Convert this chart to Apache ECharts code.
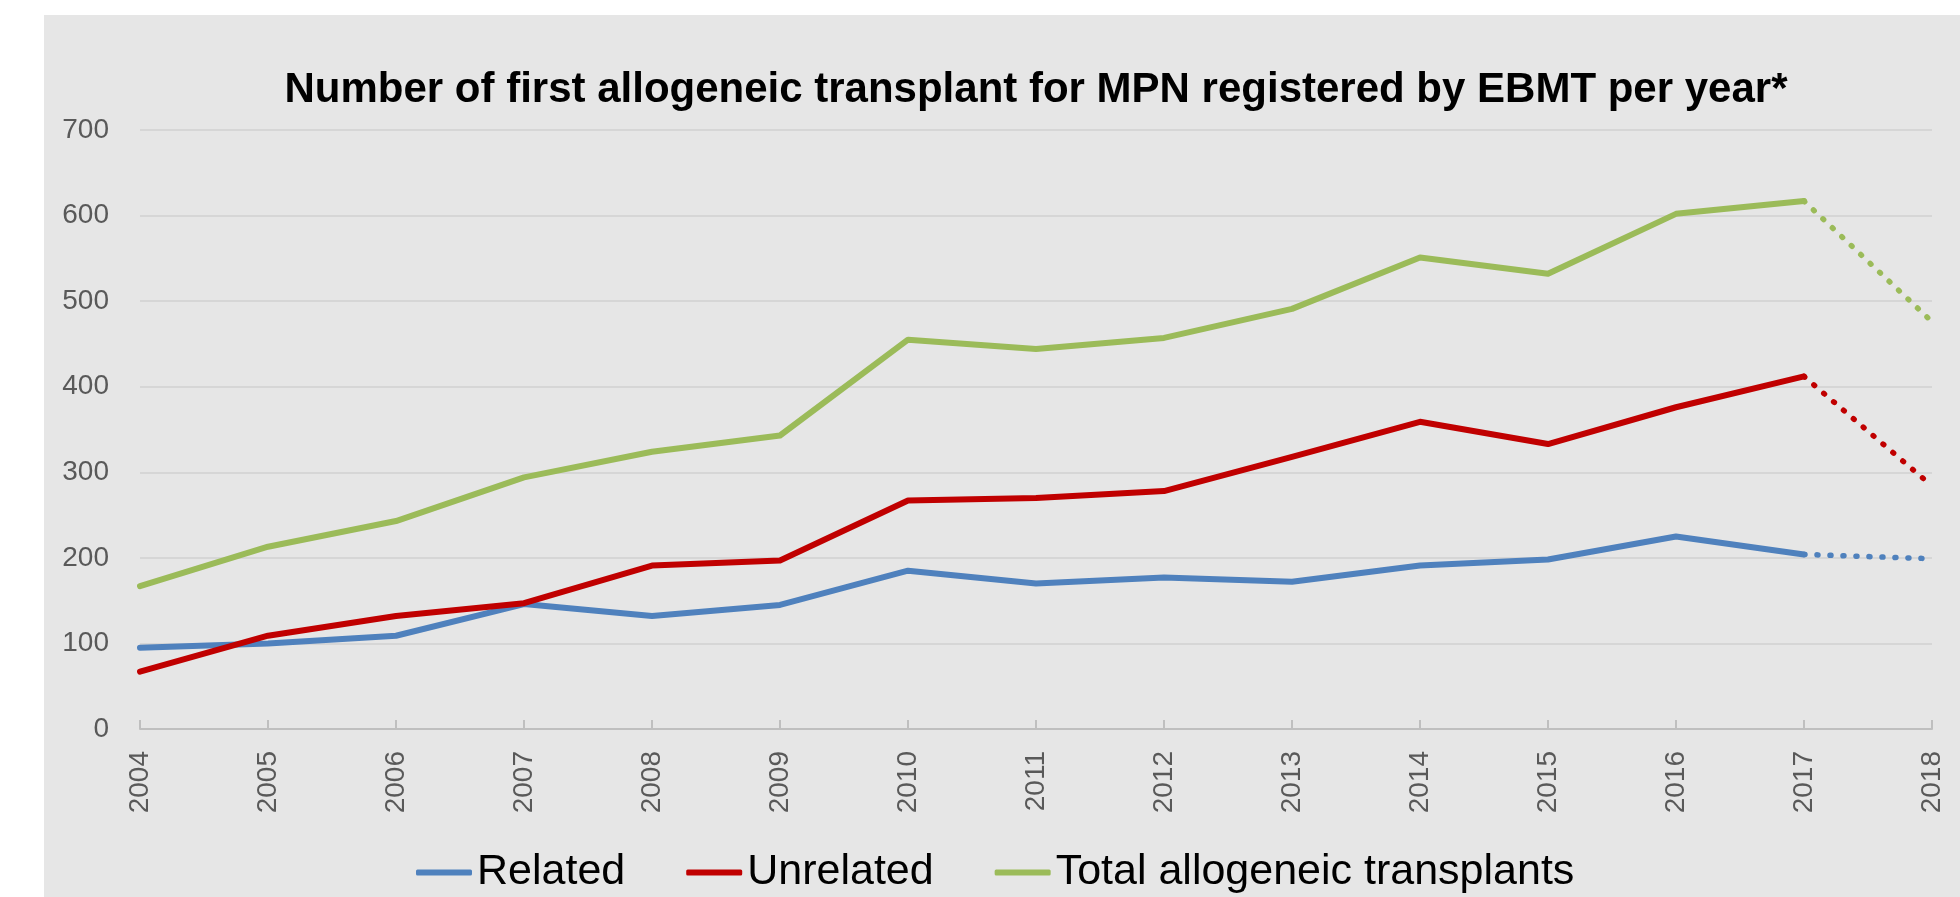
<!DOCTYPE html>
<html>
<head>
<meta charset="utf-8">
<script src="https://cdn.jsdelivr.net/npm/echarts@6/dist/echarts.min.js"></script>
<style>
html,body{margin:0;padding:0;background:#fff;}
#chart{width:1960px;height:897px;}
</style>
</head>
<body>
<div id="chart"></div>
<script>
const years = ['2004','2005','2006','2007','2008','2009','2010','2011','2012','2013','2014','2015','2016','2017','2018'];
const related   = [95, 100, 109, 146, 132, 145, 185, 170, 177, 172, 191, 198, 225, 204, 199];
const unrelated = [67, 109, 132, 147, 191, 197, 267, 270, 278, 318, 359, 333, 376, 412, 284];
const total     = [167, 213, 243, 294, 324, 343, 455, 444, 457, 491, 551, 532, 602, 617, 476];
const yTicks = [0, 100, 200, 300, 400, 500, 600, 700];
const seriesNames = ['Related', 'Unrelated', 'Total allogeneic transplants'];
const colors = ['#4f81bd', '#c00000', '#9bbb59'];
const titleText = 'Number of first allogeneic transplant for MPN registered by EBMT per year*';

const dataSets = [related, unrelated, total];
const lastSolid = years.length - 2; // 2017 index

const series = [];
dataSets.forEach((arr, i) => {
  series.push({
    name: seriesNames[i],
    type: 'line',
    data: arr.map((v, k) => k <= lastSolid ? v : null),
    symbol: 'none',
    lineStyle: { color: colors[i], width: 6, join: 'round', cap: 'round' },
    itemStyle: { color: colors[i] },
    z: 3 + i
  });
});
dataSets.forEach((arr, i) => {
  series.push({
    name: seriesNames[i] + ' (partial)',
    type: 'line',
    data: arr.map((v, k) => k >= lastSolid ? v : null),
    symbol: 'none',
    lineStyle: { color: colors[i], width: 5.5, type: [1, 12], cap: 'round' },
    itemStyle: { color: colors[i] },
    z: 3 + i
  });
});

const chart = echarts.init(document.getElementById('chart'), null, { renderer: 'canvas' });
chart.setOption({
  backgroundColor: '#ffffff',
  animation: false,
  graphic: [{
    type: 'rect',
    shape: { x: 44, y: 15, width: 1916, height: 882 },
    style: { fill: '#e6e6e6' },
    z: -10, silent: true
  }],
  title: {
    text: titleText,
    left: 1031,
    top: 64,
    textAlign: 'center',
    textStyle: { fontFamily: 'Liberation Sans, Arial, sans-serif', fontWeight: 'bold', fontSize: 42, color: '#000000' }
  },
  legend: {
    data: seriesNames,
    left: 411,
    top: 846,
    itemWidth: 56,
    itemHeight: 6,
    itemGap: 61,
    icon: 'roundRect',
    textStyle: { fontFamily: 'Liberation Sans, Arial, sans-serif', fontSize: 43, color: '#000000' }
  },
  grid: { left: 140, right: 28, top: 130, bottom: 168, containLabel: false },
  xAxis: {
    type: 'category',
    data: years,
    boundaryGap: false,
    axisLine: { lineStyle: { color: '#bfbfbf', width: 2 } },
    axisTick: { show: true, inside: true, length: 9, lineStyle: { color: '#bfbfbf', width: 2 } },
    axisLabel: { rotate: 90, margin: 22, fontFamily: 'Liberation Sans, Arial, sans-serif', fontSize: 28, color: '#595959', interval: 0 },
    splitLine: { show: false }
  },
  yAxis: {
    type: 'value',
    min: yTicks[0],
    max: yTicks[yTicks.length - 1],
    interval: 100,
    axisLine: { show: false },
    axisTick: { show: false },
    axisLabel: { margin: 31, fontFamily: 'Liberation Sans, Arial, sans-serif', fontSize: 28, color: '#595959' },
    splitLine: { lineStyle: { color: '#d6d6d6', width: 2 } }
  },
  series: series
});
</script>
</body>
</html>
